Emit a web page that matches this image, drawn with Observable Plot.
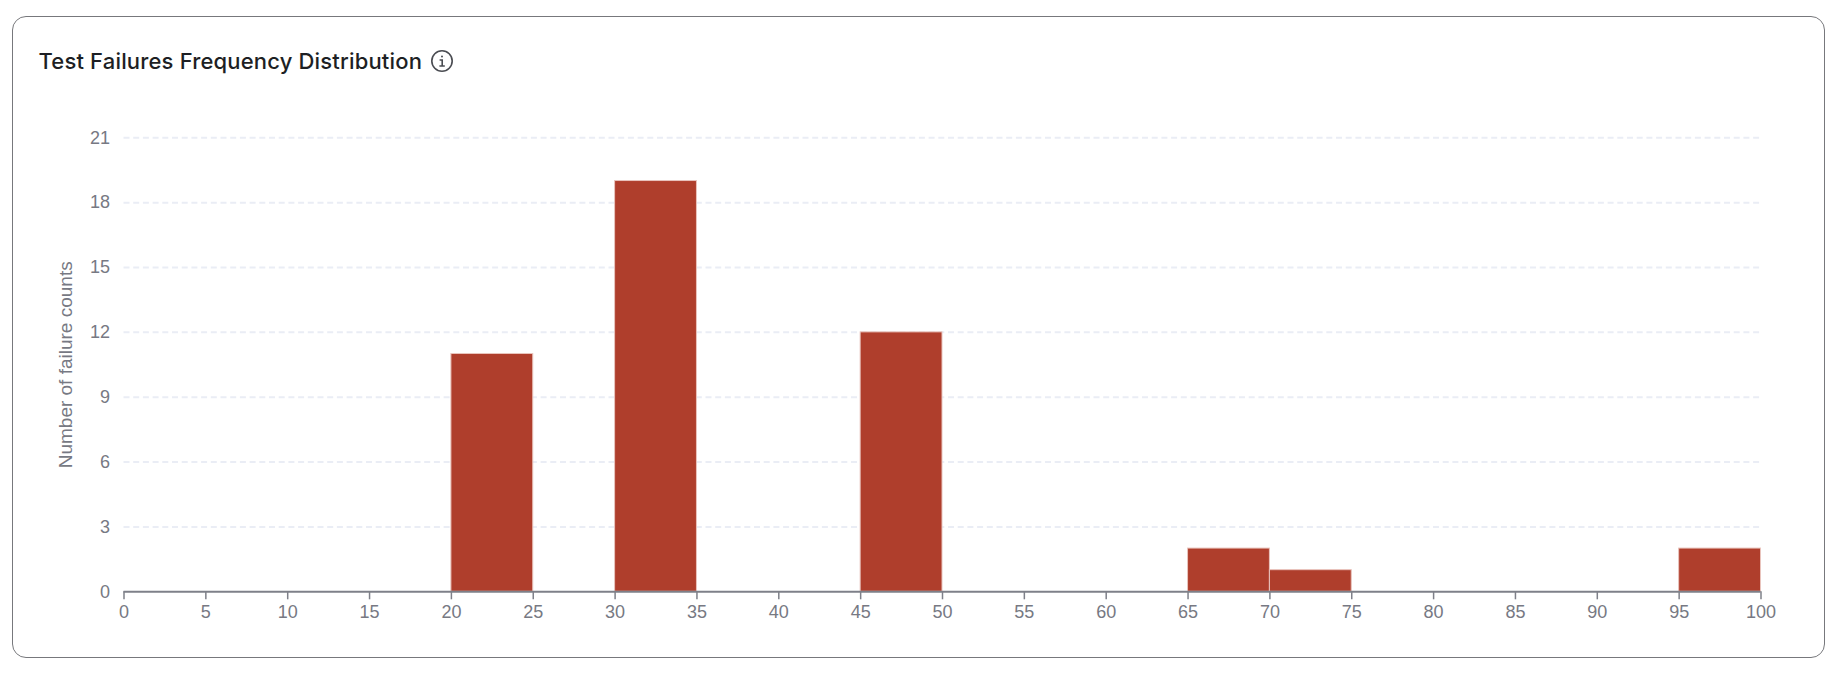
<!DOCTYPE html>
<html>
<head>
<meta charset="utf-8">
<script src="https://cdn.jsdelivr.net/npm/d3@7"></script>
<script src="https://cdn.jsdelivr.net/npm/@observablehq/plot@0.6"></script>
<style>
html,body{margin:0;padding:0;background:#fff;width:1840px;height:674px;overflow:hidden;font-family:Inter,sans-serif}
#card{position:absolute;left:12px;top:16px;width:1811px;height:640px;border:1px solid #77787c;border-radius:14px;box-sizing:content-box}
#title{position:absolute;left:38.5px;top:47px;font:450 22px/28px Inter,sans-serif;letter-spacing:.17px;color:#1d1f24;white-space:nowrap;display:flex;align-items:center;gap:8px}
#chart{position:absolute;left:0;top:0}
#chart svg{display:block;background:transparent}
</style>
</head>
<body>
<div id="chart"></div>
<div id="card"></div>
<div id="title"><span>Test Failures Frequency Distribution</span>
<svg width="24" height="24" viewBox="0 0 24 24" fill="none" stroke="#4a4c52"><circle cx="12" cy="12" r="10.2" stroke-width="1.6"/><circle cx="12" cy="7.6" r="1" fill="#4a4c52" stroke="none"/><path d="M9.6 11h2.6v5.8M9.4 17h5.4" stroke-width="1.6"/></svg></div>
<script>
const binStarts = [20, 30, 45, 65, 70, 95];
const binEnds = [25, 35, 50, 70, 75, 100];
const counts = [11, 19, 12, 2, 1, 2];
const xTicks = d3.range(0, 101, 5);
const yTicks = [0, 3, 6, 9, 12, 15, 18, 21];
const bins = binStarts.map((s, i) => ({x1: s, x2: binEnds[i], y: counts[i]}));

const plot = Plot.plot({
  width: 1840, height: 674,
  marginLeft: 123.5, marginRight: 79.5, marginTop: 137.3, marginBottom: 82.7,
  style: {fontFamily: "'Liberation Sans', Arial, sans-serif", fontSize: "18px", background: "transparent", overflow: "visible"},
  x: {domain: [0, 100]},
  y: {domain: [0, 21]},
  marks: [
    Plot.gridY(yTicks.filter(d => d > 0), {stroke: "#eaedf5", strokeOpacity: 1, strokeWidth: 2, strokeDasharray: "6 3.7"}),
    Plot.rectY(bins, {x1: "x1", x2: "x2", y: "y", fill: "#AF3E2C", stroke: "#e9c4bd", strokeWidth: 1}),
    Plot.ruleY([0], {stroke: "#7e8089", strokeWidth: 2}),
    Plot.axisX({ticks: xTicks, tickFormat: d => d, tickSize: 8, tickPadding: 5, stroke: "#7e8089", strokeWidth: 1.5, color: "#777983", fontSize: 18, label: null}),
    Plot.axisY({ticks: yTicks, tickFormat: d => d, tickSize: 0, tickPadding: 14, color: "#777983", fontSize: 18, label: null}),
    Plot.text(["Number of failure counts"], {
      frameAnchor: "left", dx: -58, rotate: -90, fill: "#777983", fontSize: 19, textAnchor: "middle"
    })
  ]
});
document.getElementById("chart").appendChild(plot);
</script>
</body>
</html>
